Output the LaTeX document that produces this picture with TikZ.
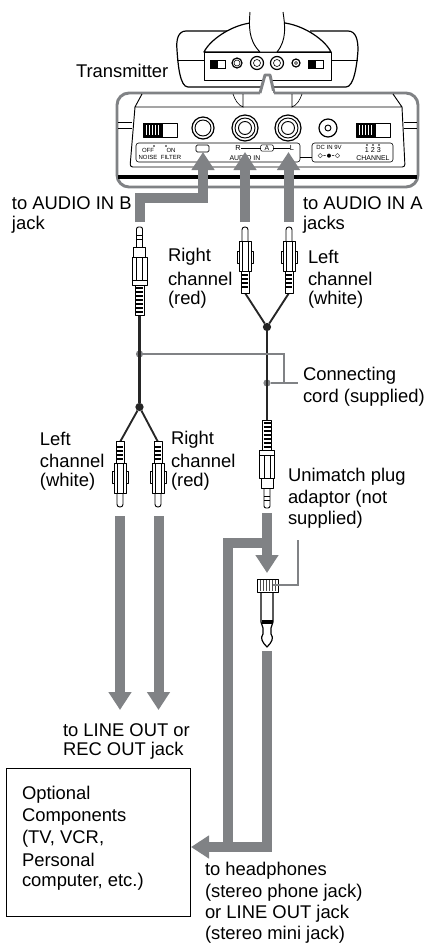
\documentclass[tikz,border=0pt]{standalone}
\usepackage{fontspec}
\setmainfont{Liberation Sans}
\usepackage{xcolor}
\usetikzlibrary{arrows.meta,positioning}
\definecolor{cordgray}{RGB}{128,130,133}

\begin{document}
\begin{tikzpicture}[
  x=0.75pt, y=-0.75pt,
  every node/.style={inner sep=0pt, outer sep=0pt},
  lbl/.style={anchor=west, align=left, font=\fontsize{13.8}{16.1}\selectfont},
  tiny/.style={anchor=center, align=center, font=\fontsize{4.5}{4.8}\selectfont},
  part/.style={draw=black, line width=0.7pt, line join=round},
  thinpart/.style={draw=black, line width=0.45pt},
  wire/.style={draw=black!85, line width=1.9pt},
  branch/.style={draw=black!85, line width=1.4pt},
  flow/.style={draw=cordgray, line width=7.5pt, line join=miter,
    -{Triangle[length=13.5pt,width=16.5pt]}},
  flowplain/.style={draw=cordgray, line width=7.5pt, line join=miter},
  leader/.style={draw=cordgray, line width=1.1pt},
  junction/.style={circle, fill=black!85, minimum size=6.2pt},
  clamp/.style={circle, fill=cordgray, minimum size=5.4pt},
]
\useasboundingbox (0,0) rectangle (430,943);

% transmitter, small view
\draw[part, line width=0.9pt, fill=white] (227,31) -- (186,31)
  .. controls (178,31) and (176,40) .. (177,50)
  .. controls (178,65) and (180,87) .. (188,87) -- (346,87)
  .. controls (354,87) and (357,65) .. (358,50)
  .. controls (358,40) and (356,31) .. (348,31) -- (310,31);
\draw[part, line width=0.9pt, fill=white] (204,52) .. controls (210,40) and (230,26) .. (250,23)
  -- (285,23) .. controls (305,26) and (325,40) .. (331,52) -- cycle;
\draw[part, fill=white] (204,52) rectangle (331,80);
\draw[part, fill=white] (250,12) .. controls (249,25) and (248,40) .. (260,52)
  -- (277,52) .. controls (287,40) and (285,25) .. (283,12);
\draw[thinpart] (177,60) -- (204,60) (331,60) -- (358,60);
\foreach \sx in {210,308} {
  \draw[thinpart] (\sx,60) rectangle ++(15,8);
  \fill (\sx,60) rectangle ++(8,8);
}
\foreach \jx/\jr/\ji in {237/5/3, 257/6.5/3.5, 277/6.5/3.5, 296/4/1.5} {
  \draw[part, line width=0.9pt] (\jx,63) circle (\jr);
  \draw[thinpart] (\jx,63) circle (\ji);
}
\node[lbl] (transmitter) at (76,71) {Transmitter};

% enlarged panel
\draw[draw=cordgray, line width=2.2pt, fill=white, rounded corners=9pt]
  (260,93) -- (117,93) -- (117,187) -- (418,187) -- (418,93) -- (274,93);
\draw[draw=cordgray, line width=2.2pt, fill=white, line join=round]
  (260,93) -- (265,75) -- (270,75) -- (274,93);
\fill[white] (261.5,94.5) rectangle (272.5,91);
\draw[part] (142,94) -- (135,107) -- (402,107) -- (393,94);
\draw[part, rounded corners=2pt] (135,107) -- (130,167) -- (405,167) -- (402,107);
\draw[thinpart] (233,94) .. controls (235,100) and (238,105) .. (243,107) -- (243,94);
\draw[thinpart] (302,94) .. controls (300,100) and (297,105) .. (292,107) -- (292,94);
\foreach \ty in {122,128} {
  \draw[thinpart] (118,\ty) -- (132,\ty) (404,\ty) -- (417,\ty);
}
\draw[draw=black, line width=2.4pt] (118,177) -- (417,177);
\foreach \sx in {143,356} {
  \draw[part] (\sx,123) rectangle ++(34,14);
  \fill (\sx,123) rectangle ++(20,14);
  \foreach \hx in {3,6,...,15}
    \draw[white, line width=0.5pt] (\sx+\hx,125) -- (\sx+\hx,135);
}
\foreach \jx/\jr/\jm in {203/11/8, 245/13/10, 288/13/10, 328/9/3} {
  \draw[part, line width=0.9pt] (\jx,128) circle (\jr);
  \draw[part] (\jx,128) circle (\jm);
}
\foreach \jx in {245,288}
  \draw[part] (\jx,128) circle (6.5);
\draw[thinpart, rounded corners=2pt] (136,143) rectangle (300,162);
\draw[thinpart, rounded corners=2pt] (312,143) rectangle (393,162);
\draw[thinpart] (300,157) -- (312,157);
\node[tiny] (noiseoff) at (148,154) {OFF\\NOISE};
\node[tiny] (filteron) at (171,154) {ON\\FILTER};
\node[tiny, font=\fontsize{5.2}{5}\selectfont] (audioin) at (245,158) {AUDIO IN};
\node[tiny, font=\fontsize{5.5}{5}\selectfont] (audior) at (238,148) {R};
\node[tiny, font=\fontsize{5.5}{5}\selectfont] (audiol) at (292,148) {L};
\node[tiny, font=\fontsize{5.2}{5}\selectfont, draw, rounded corners=1pt, inner xsep=3pt, inner ysep=0.6pt] (audioa) at (267,148) {A};
\draw[thinpart] (audior) -- (audioa) -- (audiol);
\draw[thinpart, rounded corners=1pt] (196,145) rectangle (209,152);
\node[tiny] (dcin) at (329,147.5) {DC IN 9V};
\node[tiny, font=\fontsize{7}{7}\selectfont] (polar) at (329,156) {$\diamond$-$\bullet$-$\diamond$};
\node[tiny, font=\fontsize{5.4}{5}\selectfont] (chnum) at (373,150) {1 2 3};
\node[tiny, font=\fontsize{5.2}{5}\selectfont] (chname) at (373,158) {CHANNEL};
\foreach \dx/\dy in {154/146, 166/146, 367/145, 373/145, 379/145}
  \fill (\dx,\dy) circle (0.9);

% grey arrows to the jacks
\coordinate (inb) at (140,222);
\coordinate (ina) at (245,222);
\coordinate (inc) at (288.5,222);
\draw[flow] (inb) -- (140,198) -- (203,198) -- (203,152);
\draw[flow] (ina) -- (245,152);
\draw[flow] (inc) -- (288.5,152);

% cords and leaders
\node[junction] (spliti) at (267,327) {};
\node[junction] (splitii) at (139.5,407) {};
\node[clamp] (clampa) at (139.5,354) {};
\node[clamp] (clampb) at (267,383) {};
\coordinate (plugrt) at (245,293);
\coordinate (pluglt) at (289,293);
\coordinate (miniup) at (139.5,315);
\coordinate (minidn) at (267,423);
\coordinate (plugbl) at (120,442);
\coordinate (plugbr) at (158,442);
\draw[wire] (miniup) -- (splitii);
\draw[branch] (splitii) -- (plugbl);
\draw[branch] (splitii) -- (plugbr);
\draw[branch] (plugrt) -- (spliti) -- (pluglt);
\draw[wire] (spliti) -- (minidn);
\coordinate (cordtag) at (298,383);
\draw[leader] (clampa) -- (284,354) -- (284,383);
\draw[leader] (clampb) -- (cordtag);

% phono plugs, pointing up or down
\foreach \px/\py/\fl in {245/227/1, 289/227/1, 120/507/-1, 158/507/-1} {
  \begin{scope}[shift={(\px,\py)}, yscale=\fl]
    \draw[part, fill=white, rounded corners=2pt] (-3,14) -- (-3,0) -- (3,0) -- (3,14);
    \draw[part, fill=white] (-6,14) rectangle (6,44);
    \draw[thinpart] (-3,14) -- (-3,44) (3,14) -- (3,44);
    \draw[part, fill=white] (-8,24) rectangle (-6,36) (6,24) rectangle (8,36);
    \draw[part, fill=white] (-4,44) rectangle (4,66);
    \foreach \hy in {48,52,...,62}
      \draw[black, line width=0.9pt] (-3,\hy) -- (3,\hy);
  \end{scope}
}
% mini plugs
\foreach \px/\py/\fl in {139.5/227/1, 267/508/-1} {
  \begin{scope}[shift={(\px,\py)}, yscale=\fl]
    \draw[part, fill=white, rounded corners=1.5pt] (-3,20) -- (-3,0) -- (3,0) -- (3,20);
    \draw[thinpart] (-3,8) -- (3,8) (-3,12) -- (3,12);
    \draw[part, fill=white] (-6,20) rectangle (6,30);
    \draw[part, fill=white] (-7.5,30) rectangle (7.5,53);
    \draw[thinpart] (-3,30) -- (-3,53) (3,30) -- (3,53);
    \draw[part, fill=white] (-7.5,53) rectangle (7.5,58);
    \draw[part, fill=white] (-4.5,58) rectangle (4.5,88);
    \foreach \hy in {61,65,...,85}
      \draw[black, line width=0.9pt] (-3.5,\hy) -- (3.5,\hy);
  \end{scope}
}

% stereo adaptor
\draw[part, fill=white, line width=0.9pt] (261,592) -- (261,622) -- (263,628) -- (263,634)
  .. controls (260,638) and (262,642) .. (267,647)
  .. controls (272,642) and (274,638) .. (271,634) -- (271,628) -- (273,622) -- (273,592) -- cycle;
\fill (261.5,620) rectangle (272.5,624);
\draw[part, fill=white] (257,579) rectangle (278,592);
\foreach \hx in {260,263,...,275}
  \draw[black!70, line width=0.5pt] (\hx,580) -- (\hx,591);
\coordinate (adapttag) at (298,540);
\coordinate (adaptgrip) at (273,585);
\draw[leader] (adapttag) -- (298,585) -- (adaptgrip);

% grey arrows, lower part
\foreach \ax/\an in {120/outl, 158.5/outr} {
  \coordinate (\an) at (\ax,516);
  \draw[flow] (\an) -- (\ax,710);
}
\coordinate (toadapt) at (267,513);
\coordinate (fromadapt) at (267,651);
\coordinate (branchend) at (227.5,847);
\node[draw=black, line width=0.7pt, minimum width=138pt, minimum height=111.5pt, anchor=north west]
  (components) at (6,768) {};
\draw[flow] (toadapt) -- (267,573);
\draw[flow] (fromadapt) -- (267,847) -- (191,847);
\draw[flowplain] (branchend) -- (227.5,542.5) -- (267,542.5);

% labels
\node[lbl] (toinb) at (12,203.5) {to AUDIO IN B};
\node[lbl] (toinbj) at (12,225) {jack};
\node[lbl] (toina) at (303,203) {to AUDIO IN A};
\node[lbl] (toinaj) at (303,224.5) {jacks};
\foreach \tn/\tx/\ty/\ltxt in {rc1/168/257/Right, rc2/168/278.5/channel, rc3/168/300/(red),
    lc1/308/257/Left, lc2/308/278.5/channel, lc3/308/300/(white),
    cc1/303/376/Connecting, cc2/303/397.5/cord (supplied),
    ll1/40/439/Left, ll2/40/460.5/channel, ll3/40/482/(white),
    rl1/171/440/Right, rl2/171/461/channel, rl3/171/482/(red),
    um1/288/477/Unimatch plug, um2/288/498.5/adaptor (not, um3/288/520/supplied),
    lo1/63/730/to LINE OUT or, lo2/63/751/REC OUT jack,
    oc1/22/795/Optional, oc2/22/817/Components, oc3/22/838.5/{(TV, VCR,},
    oc4/22/860/Personal, oc5/22/882/{computer, etc.)},
    hp1/205/871/to headphones, hp2/205/892.5/(stereo phone jack),
    hp3/205/913.5/or LINE OUT jack, hp4/205/935/(stereo mini jack)}
  \node[lbl] (\tn) at (\tx,\ty) {\ltxt};
\end{tikzpicture}
\end{document}
